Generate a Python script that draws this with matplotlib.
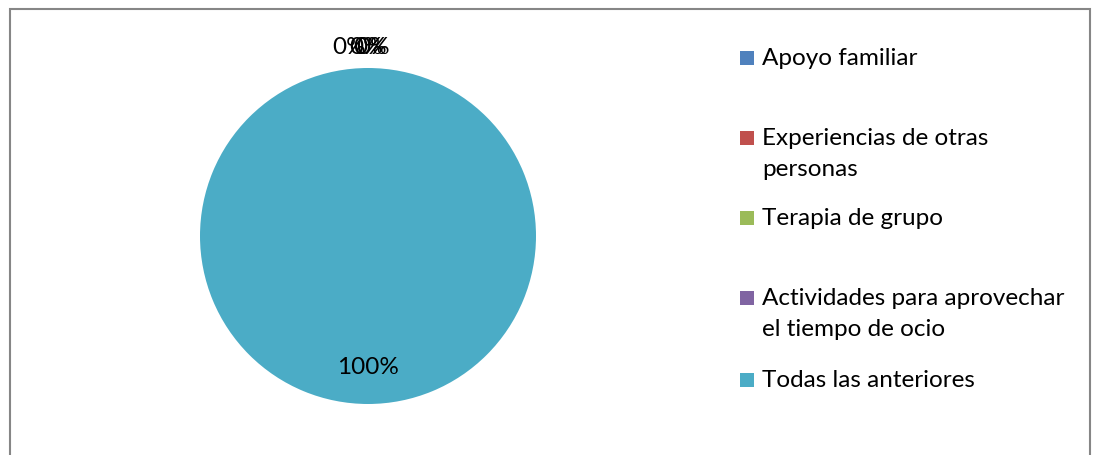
import math
import matplotlib
matplotlib.use("Agg")
import matplotlib.pyplot as plt
from matplotlib.patches import Rectangle

categories = ["Apoyo familiar", "Experiencias de otras\npersonas", "Terapia de grupo",
              "Actividades para aprovechar\nel tiempo de ocio", "Todas las anteriores"]
values = [0, 0, 0, 0, 100]
colors = ["#4F81BD", "#C0504D", "#9BBB59", "#8064A2", "#4BACC6"]

FONT = "Lato"
FS = 17.5

W, H = 1093, 455
fig = plt.figure(figsize=(W / 100, H / 100), dpi=100)

# chart border
fig.patches.append(Rectangle((10 / W, -0.1), 1080 / W, 1 - 9 / H + 0.1,
                             transform=fig.transFigure, fill=False,
                             edgecolor="#868686", linewidth=1.5))

cx, cy, r = 368, 236, 168
ax = fig.add_axes([(cx - r) / W, (H - cy - r) / H, 2 * r / W, 2 * r / H])
wedges, _ = ax.pie(values, colors=colors, startangle=90, counterclock=False,
                   radius=1, wedgeprops=dict(linewidth=0))
ax.set_xlim(-1, 1)
ax.set_ylim(-1, 1)
ax.set_aspect("equal")
ax.axis("off")

total = sum(values)
zero_offsets = [-0.11, -0.01, 0.01, 0.03]
zi = 0
for w, v in zip(wedges, values):
    pct = f"{round(100 * v / total)}%"
    if v == 0:
        ax.text(zero_offsets[zi], 1.125, pct, ha="center", va="center",
                fontsize=FS, family=FONT, clip_on=False)
        zi += 1
    else:
        span = w.theta2 - w.theta1
        mid = math.radians((w.theta1 + w.theta2) / 2) if span < 359 else math.radians(-90)
        ax.text(0.78 * math.cos(mid), 0.78 * math.sin(mid), pct,
                ha="center", va="center", fontsize=FS, family=FONT)

# legend (manual, Excel-like vertical distribution)
leg_y = [58, 138, 218, 298, 380]
for lab, col, y in zip(categories, colors, leg_y):
    fig.patches.append(Rectangle((740 / W, (H - y - 7) / H), 14 / W, 14 / H,
                                 transform=fig.transFigure, facecolor=col,
                                 edgecolor="none"))
    fig.text(762 / W, (H - y + 10) / H, lab, ha="left", va="top",
             fontsize=FS, family=FONT, linespacing=1.6,
             transform=fig.transFigure)

fig.savefig("out.png", dpi=100)
